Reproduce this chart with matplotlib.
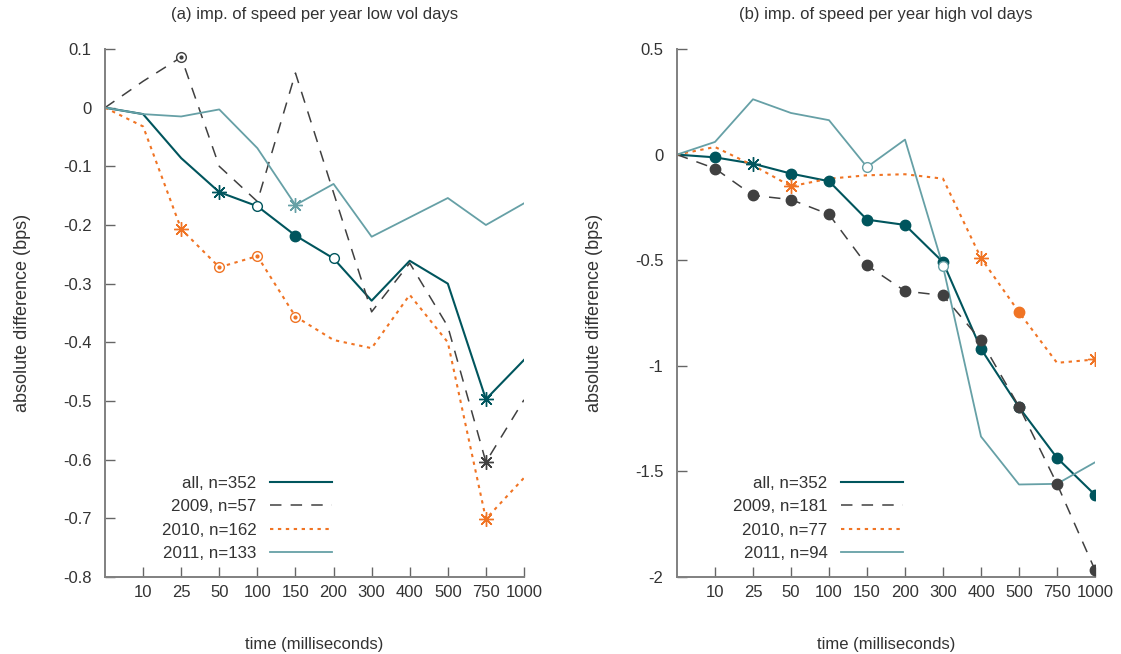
import numpy as np
import matplotlib
matplotlib.use("Agg")
import matplotlib.pyplot as plt

plt.rcParams['font.family'] = ['Liberation Sans', 'DejaVu Sans']

# time buckets (first point is the origin, 0 ms, not labelled)
times = ['0', '10', '25', '50', '100', '150', '200', '300', '400', '500', '750', '1000']

# (a) low vol days
low_all = [0, -0.011, -0.086, -0.144, -0.168, -0.218, -0.257, -0.329, -0.261, -0.300, -0.497, -0.430]
low_2009 = [0, 0.045, 0.086, -0.100, -0.160, 0.059, -0.145, -0.348, -0.265, -0.373, -0.604, -0.498]
low_2010 = [0, -0.032, -0.207, -0.272, -0.253, -0.356, -0.396, -0.410, -0.319, -0.400, -0.701, -0.631]
low_2011 = [0, -0.011, -0.015, -0.003, -0.069, -0.166, -0.130, -0.220, -0.187, -0.154, -0.200, -0.163]
# significance markers: f filled, a asterisk, o open circle, d open circle w/ dot
low_all_m = ['', '', '', 'a', 'o', 'f', 'o', '', '', '', 'a', '']
low_2009_m = ['', '', 'd', '', '', '', '', '', '', '', 'a', '']
low_2010_m = ['', '', 'a', 'd', 'd', 'd', '', '', '', '', 'a', '']
low_2011_m = ['', '', '', '', '', 'a', '', '', '', '', '', '']
low_labels = ['all, n=352', '2009, n=57', '2010, n=162', '2011, n=133']

# (b) high vol days
high_all = [0, -0.013, -0.043, -0.090, -0.126, -0.308, -0.333, -0.509, -0.920, -1.196, -1.436, -1.611]
high_2009 = [0, -0.066, -0.193, -0.213, -0.283, -0.525, -0.646, -0.667, -0.880, -1.193, -1.559, -1.967]
high_2010 = [0, 0.036, -0.051, -0.150, -0.114, -0.098, -0.093, -0.114, -0.490, -0.746, -0.986, -0.970]
high_2011 = [0, 0.060, 0.262, 0.197, 0.163, -0.059, 0.071, -0.529, -1.335, -1.562, -1.559, -1.457]
high_all_m = ['', 'f', 'a', 'f', 'f', 'f', 'f', 'f', 'f', 'f', 'f', 'f']
high_2009_m = ['', 'f', 'f', 'f', 'f', 'f', 'f', 'f', 'f', 'f', 'f', 'f']
high_2010_m = ['', '', '', 'a', '', '', '', '', 'a', 'f', '', 'a']
high_2011_m = ['', '', '', '', '', 'o', '', 'o', '', '', '', '']
high_labels = ['all, n=352', '2009, n=181', '2010, n=77', '2011, n=94']

low_yticks = [0.1, 0, -0.1, -0.2, -0.3, -0.4, -0.5, -0.6, -0.7, -0.8]
high_yticks = [0.5, 0, -0.5, -1, -1.5, -2]

colors = ['#00555d', '#404040', '#f07424', '#66a0a6']
styles = [dict(lw=1.5), dict(lw=1.1, dashes=(7.5, 6)), dict(lw=1.5, dashes=(1.6, 2.2)), dict(lw=1.3)]
TXT = '#333333'
AX = '#808080'


def fmt(v):
    s = ('%g' % v)
    return '0' if s == '-0' else s


def draw(ax, series, marks, labels, yticks, title, leg_x):
    x = np.arange(len(times))
    for vals, mk, lab, c, st in zip(series, marks, labels, colors, styles):
        ax.plot(x, vals, color=c, label=lab, **st)
        vals = np.array(vals)
        for code, kw in [('f', dict(marker='o', ms=7.5, mfc=c, mec=c)),
                         ('a', dict(marker=(8, 2, 0), ms=10.5, mec=c, mew=1.0)),
                         ('o', dict(marker='o', ms=7, mfc='white', mec=c, mew=1.0)),
                         ('d', dict(marker='o', ms=7, mfc='white', mec=c, mew=1.0))]:
            idx = [i for i, m in enumerate(mk) if m == code]
            if idx:
                ax.plot(x[idx], vals[idx], ls='none', zorder=3, **kw)
                if code == 'd':
                    ax.plot(x[idx], vals[idx], ls='none', marker='o', ms=2, color=c, zorder=4)
    ax.set_xlim(0, len(times) - 1)
    ax.set_ylim(yticks[-1], yticks[0])
    ax.set_xticks(x[1:])
    ax.set_xticklabels(times[1:])
    ax.set_yticks(yticks)
    ax.set_yticklabels([fmt(v) for v in yticks])
    for s in ['top', 'right']:
        ax.spines[s].set_visible(False)
    for s in ['left', 'bottom']:
        ax.spines[s].set_color(AX)
        ax.spines[s].set_linewidth(1.4)
    ax.tick_params(axis='x', direction='in', length=7, width=1, color='#666666',
                   pad=6, labelsize=12, labelcolor=TXT)
    ax.tick_params(axis='y', direction='in', length=7, width=1, color='#666666',
                   pad=9.8, labelsize=12, labelcolor=TXT)
    ax.set_title(title, fontsize=12, color=TXT, y=1.066, va='center', pad=0)
    ax.set_xlabel('time (milliseconds)', fontsize=12, color=TXT)
    ax.xaxis.set_label_coords(0.5, -0.114)
    ax.set_ylabel('absolute difference (bps)', fontsize=13, color=TXT)
    ax.yaxis.set_label_coords(-0.177, 0.5)
    leg = ax.legend(loc='lower right', bbox_to_anchor=(leg_x, 0.03), frameon=False,
                    markerfirst=False, fontsize=12.2, handlelength=3.67,
                    handletextpad=0.8, labelspacing=0.5, borderpad=0, borderaxespad=0)
    for t in leg.get_texts():
        t.set_color(TXT)


fig = plt.figure(figsize=(11.21, 6.54), dpi=100)
ax1 = fig.add_axes([105 / 1121, 77 / 654, 419 / 1121, 528 / 654])
ax2 = fig.add_axes([677 / 1121, 77 / 654, 418 / 1121, 528 / 654])

draw(ax1, [low_all, low_2009, low_2010, low_2011],
     [low_all_m, low_2009_m, low_2010_m, low_2011_m], low_labels, low_yticks,
     '(a) imp. of speed per year low vol days', 0.542)
draw(ax2, [high_all, high_2009, high_2010, high_2011],
     [high_all_m, high_2009_m, high_2010_m, high_2011_m], high_labels, high_yticks,
     '(b) imp. of speed per year high vol days', 0.541)

fig.savefig('out.png', dpi=100)
